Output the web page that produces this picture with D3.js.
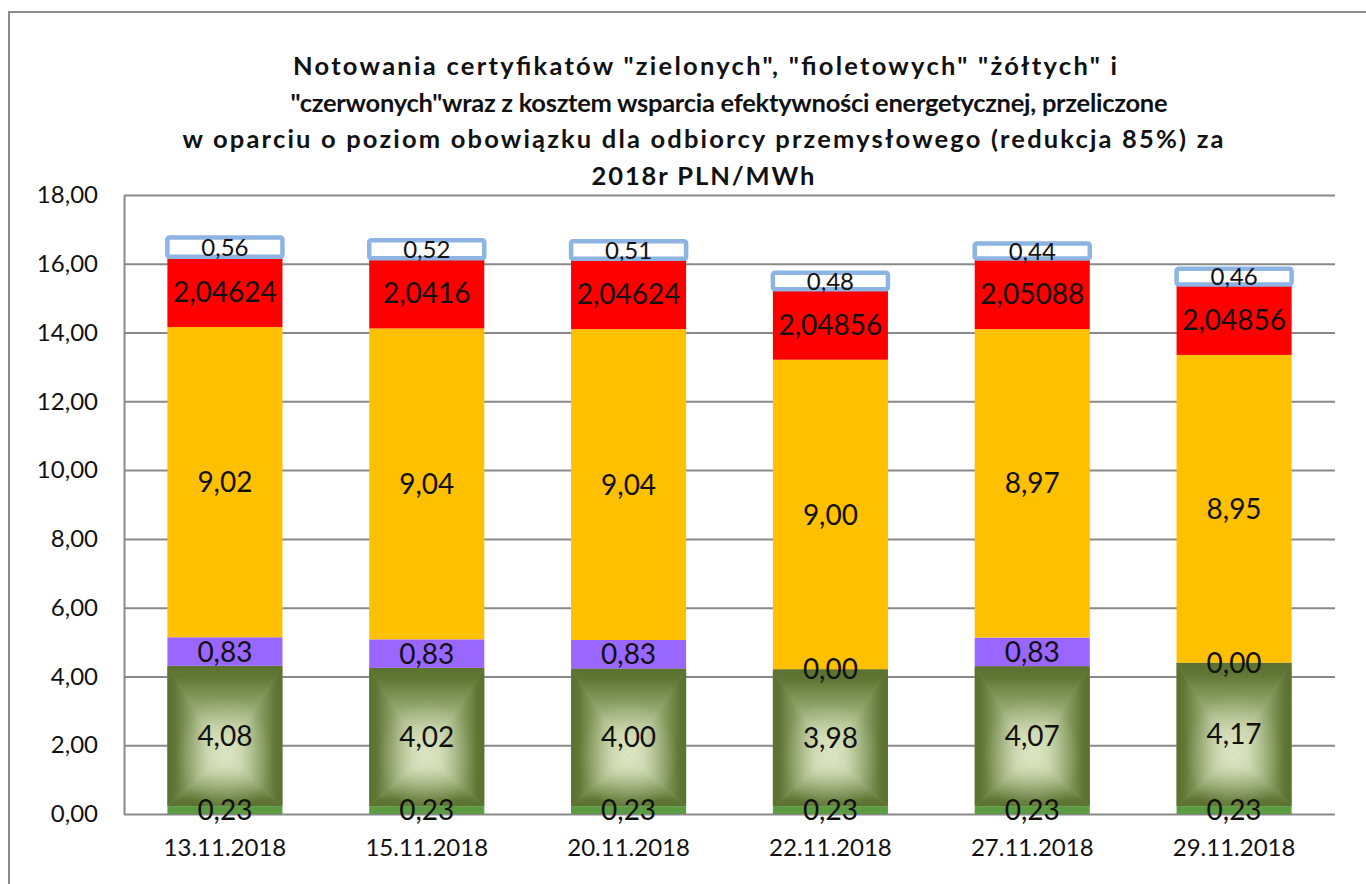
<!DOCTYPE html>
<html>
<head>
<meta charset="utf-8">
<script src="https://cdn.jsdelivr.net/npm/d3@7"></script>
<style>
  body { margin: 0; background: #fff; }
  svg { display: block; font-family: Lato, "Open Sans", sans-serif; }
</style>
</head>
<body>
<div id="vis"></div>
<script>
// dates on the x axis
var dates = ["13.11.2018", "15.11.2018", "20.11.2018", "22.11.2018", "27.11.2018", "29.11.2018"]

// series, bottom to top
var zieloneBaza = [0.23, 0.23, 0.23, 0.23, 0.23, 0.23]
var zielone     = [4.08, 4.02, 4.00, 3.98, 4.07, 4.17]
var fioletowe   = [0.83, 0.83, 0.83, 0.00, 0.83, 0.00]
var zolte       = [9.02, 9.04, 9.04, 9.00, 8.97, 8.95]
var czerwone    = [2.04624, 2.0416, 2.04624, 2.04856, 2.05088, 2.04856]
var efektywnosc = [0.56, 0.52, 0.51, 0.48, 0.44, 0.46]

var yTicks = [0, 2, 4, 6, 8, 10, 12, 14, 16, 18]

var titleLines = [
  "Notowania certyfikatów \"zielonych\", \"fioletowych\" \"żółtych\" i",
  "\"czerwonych\"wraz z kosztem wsparcia efektywności energetycznej, przeliczone",
  "w oparciu  o poziom obowiązku dla odbiorcy przemysłowego  (redukcja 85%) za",
  "2018r PLN/MWh"
]
// rendered width of each title line (the original font is wider than Lato)
var titleWidths = [824, 877, 1041, 223]
var titleCenters = [705, 729, 703, 703]

var keys = ["baza", "ziel", "fiol", "zolt", "czer", "efek"]
var rows = dates.map(function(d, i) {
  return {date: d, baza: zieloneBaza[i], ziel: zielone[i], fiol: fioletowe[i],
          zolt: zolte[i], czer: czerwone[i], efek: efektywnosc[i]}
})

var width = 1366, height = 884
var margin = {top: 195, right: 31, bottom: 70, left: 124}
var plotW = width - margin.left - margin.right,
    plotH = height - margin.top - margin.bottom

var pl = d3.formatLocale({decimal: ",", thousands: " ", grouping: [3], currency: ["", " zł"]})
var fmt2 = pl.format(".2f")

var x = d3.scaleBand().domain(dates).range([0, plotW]).paddingInner(0.43).paddingOuter(0.215)
var y = d3.scaleLinear().domain([0, 18]).range([plotH, 0])

var svg = d3.select("#vis").append("svg")
    .attr("width", width)
    .attr("height", height)

// gradients for the 4 parts of the "rectangle" fill
var defs = svg.append("defs")
var gradDirs = {
  gTop:    [0, 0, 0, 1],
  gBottom: [0, 1, 0, 0],
  gLeft:   [0, 0, 1, 0],
  gRight:  [1, 0, 0, 0]
}
Object.keys(gradDirs).forEach(function(id) {
  var gd = gradDirs[id]
  var lg = defs.append("linearGradient").attr("id", id)
      .attr("x1", gd[0]).attr("y1", gd[1]).attr("x2", gd[2]).attr("y2", gd[3])
  lg.append("stop").attr("offset", "0").attr("stop-color", "#5b7131")
  lg.append("stop").attr("offset", "0.12").attr("stop-color", "#607634")
  lg.append("stop").attr("offset", "0.45").attr("stop-color", "#93a66e")
  lg.append("stop").attr("offset", "0.75").attr("stop-color", "#c8d4aa")
  lg.append("stop").attr("offset", "1").attr("stop-color", "#dde6c4")
})
// soft glow to hide the sharp X in the middle
var rg = defs.append("radialGradient").attr("id", "gGlow")
    .attr("cx", 0.5).attr("cy", 0.64).attr("r", 0.42)
rg.append("stop").attr("offset", "0").attr("stop-color", "#dde6c4").attr("stop-opacity", 0.55)
rg.append("stop").attr("offset", "1").attr("stop-color", "#dde6c4").attr("stop-opacity", 0)

// outer chart border (cut by the picture)
svg.append("path")
    .attr("d", "M9," + height + "V12H" + width)
    .attr("fill", "none")
    .attr("stroke", "#8c8c8c")
    .attr("stroke-width", 2)

// title
svg.append("g").selectAll("text")
    .data(titleLines)
    .enter().append("text")
    .attr("x", function(d, i) { return titleCenters[i] })
    .attr("y", function(d, i) { return 75 + i * 36.5 })
    .attr("text-anchor", "middle")
    .attr("textLength", function(d, i) { return titleWidths[i] })
    .attr("lengthAdjust", "spacing")
    .style("font-weight", "bold")
    .style("font-size", "25.5px")
    .style("fill", "#111")
    .text(function(d) { return d })

var g = svg.append("g")
    .attr("transform", "translate(" + margin.left + "," + margin.top + ")")

// y axis + grid
var yAxis = g.append("g")
    .call(d3.axisLeft(y).tickValues(yTicks).tickSize(-plotW).tickSizeOuter(0).tickPadding(26).tickFormat(fmt2))
yAxis.select(".domain").attr("stroke", "#898989").attr("stroke-width", 2)
yAxis.selectAll(".tick line").attr("stroke", "#898989").attr("stroke-width", 2)
yAxis.selectAll(".tick text")
    .style("font-size", "24px")
    .style("font-family", "Lato, sans-serif")
    .attr("fill", "#111")

// x axis labels
var xAxis = g.append("g")
    .attr("transform", "translate(0," + plotH + ")")
    .call(d3.axisBottom(x).tickSize(0).tickPadding(0))
xAxis.select(".domain").remove()
xAxis.selectAll(".tick text")
    .attr("dy", 42)
    .style("font-size", "24px")
    .style("font-family", "Lato, sans-serif")
    .attr("fill", "#111")

var series = d3.stack().keys(keys)(rows)
var bw = x.bandwidth()

var plainColor = {baza: "#5b9b41", fiol: "#9966ff", zolt: "#ffc000", czer: "#ff0000"}

series.forEach(function(s) {
  var key = s.key
  var layer = g.append("g").attr("class", "layer-" + key)
  s.forEach(function(d) {
    var x0 = x(d.data.date), y0 = y(d[1]), y1 = y(d[0])
    var h = y1 - y0
    if (h <= 0) return
    if (key === "ziel") {
      var cx = x0 + bw / 2, cy = y0 + h * 0.64, xr = x0 + bw
      layer.append("rect").attr("x", x0).attr("y", y0).attr("width", bw).attr("height", h)
          .attr("fill", "#8a9a60")
      var polys = [
        {pts: [[x0, y0], [xr, y0], [cx, cy]], fill: "gTop"},
        {pts: [[x0, y1], [xr, y1], [cx, cy]], fill: "gBottom"},
        {pts: [[x0, y0], [x0, y1], [cx, cy]], fill: "gLeft"},
        {pts: [[xr, y0], [xr, y1], [cx, cy]], fill: "gRight"}
      ]
      polys.forEach(function(p) {
        layer.append("polygon")
            .attr("points", p.pts.map(function(q) { return q.join(",") }).join(" "))
            .attr("fill", "url(#" + p.fill + ")")
      })
      layer.append("rect").attr("x", x0).attr("y", y0).attr("width", bw).attr("height", h)
          .attr("fill", "url(#gGlow)")
    } else if (key === "efek") {
      layer.append("rect")
          .attr("x", x0).attr("y", y0).attr("width", bw).attr("height", h)
          .attr("rx", 2)
          .attr("fill", "#fff")
          .attr("stroke", "#8db4e2")
          .attr("stroke-width", 4.5)
    } else {
      layer.append("rect")
          .attr("x", x0).attr("y", y0).attr("width", bw).attr("height", h)
          .attr("fill", plainColor[key])
    }
  })
})

// data labels on top of everything
series.forEach(function(s) {
  var key = s.key
  g.append("g").selectAll("text")
      .data(s)
      .enter().append("text")
      .attr("x", function(d) { return x(d.data.date) + bw / 2 })
      .attr("y", function(d) { return (y(d[0]) + y(d[1])) / 2 })
      .attr("dy", "0.36em")
      .attr("text-anchor", "middle")
      .style("font-size", key === "efek" ? "24px" : "28px")
      .style("fill", "#111")
      .text(function(d) {
        var v = d.data[key]
        return key === "czer" ? String(v).replace(".", ",") : fmt2(v)
      })
})
</script>
</body>
</html>
